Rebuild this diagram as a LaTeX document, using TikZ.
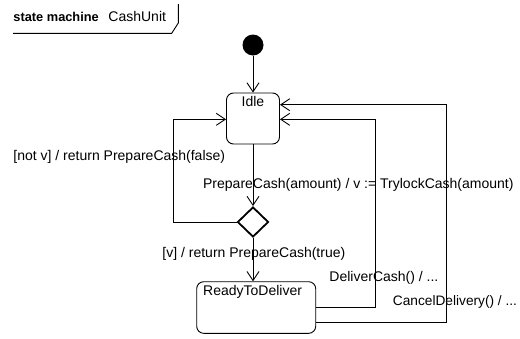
\documentclass[tikz,border=0pt]{standalone}
\usepackage{fontspec}
\setmainfont{Liberation Sans}
\usetikzlibrary{arrows.meta,shapes.geometric}
\begin{document}
\begin{tikzpicture}[x=1pt,y=-1pt,
  line width=0.9pt,
  txt/.style={inner sep=0pt,anchor=base west,font=\fontsize{14}{16}\selectfont},
  statebox/.style={draw,rounded corners=7pt,inner sep=0pt},
  arr/.style={-{Straight Barb[length=9pt,width=12pt,line width=0.9pt]}},
  choice/.style={draw,diamond,inner sep=0pt,minimum width=31pt,minimum height=30pt,line width=1.8pt}]
\useasboundingbox (0,0) rectangle (520,338);

% frame tab
\draw (13,33.3) -- (171.7,33.3) -- (178.3,23) -- (178.3,4);
\node[txt,font=\fontsize{12.8}{15}\selectfont\bfseries] (fk) at (13,21.5) {state machine};
\node[txt] (fn) at (108,21.5) {CashUnit};

% states
\node[circle,fill=black,inner sep=0pt,minimum size=21pt] (init) at (253,45) {};
\node[statebox,minimum width=53pt,minimum height=51pt] (idle) at (253,118.5) {};
\node[txt,anchor=base] (idlet) at (253,106.5) {Idle};
\node[choice] (dec) at (253,222) {};
\node[statebox,minimum width=119pt,minimum height=51.6pt] (rtd) at (256.2,307.5) {};
\node[txt] (rtdt) at (202.7,295) {ReadyToDeliver};

% helper corners
\coordinate (lc) at (173,119.3);
\coordinate (r1) at (375.5,119.3);
\coordinate (r2) at (446.5,104.7);

% transitions
\draw[arr] (init) -- (init |- idle.north);
\draw[arr] (idle.south) -- (dec.north);
\draw[arr] (dec.west) -| (lc) -- (idle.west |- lc);
\draw[arr] (dec.south) -- (dec.south |- rtd.north);
\draw[arr] (rtd.east |- 0,307.7) -| (r1) -- (idle.east |- r1);
\draw[arr] (rtd.east |- 0,322.3) -| (r2) -- (idle.east |- r2);

% labels
\node[txt] (l1) at (13,160) {[not v] / return PrepareCash(false)};
\node[txt] (l2) at (202.7,188.3) {PrepareCash(amount) / v := TrylockCash(amount)};
\node[txt] (l3) at (162,257.7) {[v] / return PrepareCash(true)};
\node[txt] (l4) at (329,281.6) {DeliverCash() / ...};
\node[txt,font=\fontsize{13.7}{16}\selectfont] (l5) at (392.5,305.6) {CancelDelivery() / ...};
\end{tikzpicture}
\end{document}
